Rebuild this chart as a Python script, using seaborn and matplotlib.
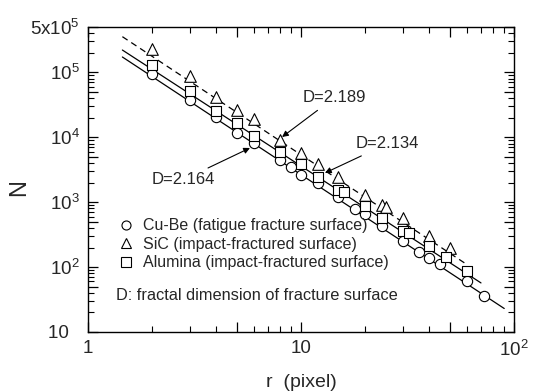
import matplotlib
matplotlib.use('Agg')
import pandas as pd
import matplotlib.pyplot as plt
import seaborn as sns
from matplotlib.lines import Line2D
from matplotlib.ticker import FixedLocator, FixedFormatter, NullFormatter

# Datos (conteo de cajas N vs tamano r)
r_cube = [2, 3, 4, 5, 6, 8, 9, 10, 12, 15, 18, 20, 24, 30, 36, 40, 45, 60, 72]
n_cube = [94400, 37600, 20600, 11600, 8170, 4470, 3480, 2630, 1980, 1200, 785, 658,
          430, 252, 171, 138, 112, 61, 36]

r_sic = [2, 3, 4, 5, 6, 8, 10, 12, 15, 20, 24, 25, 30, 40, 50]
n_sic = [229000, 88000, 41800, 26400, 19100, 9080, 5730, 3880, 2440, 1290, 906, 843,
         571, 301, 197]

r_alu = [2, 3, 4, 5, 6, 8, 10, 12, 15, 16, 20, 24, 30, 32, 40, 48, 60]
n_alu = [130000, 51600, 25400, 16600, 10500, 5930, 3900, 2440, 1550, 1420, 873, 571,
         360, 335, 211, 143, 87]

# Rectas de ajuste (extremos)
fit_r_cube = [1.45, 90]
fit_n_cube = [172600, 23]
fit_r_sic = [1.45, 60]
fit_n_sic = [355000, 110]
fit_r_alu = [1.45, 70]
fit_n_alu = [221000, 57]

etiquetas = ['Cu-Be (fatigue fracture surface)',
             'SiC (impact-fractured surface)',
             'Alumina (impact-fractured surface)']
marcadores = ['o', '^', 's']

sns.set_theme(style='ticks')
plt.rcParams['font.family'] = ['Liberation Sans', 'DejaVu Sans']
plt.rcParams['mathtext.default'] = 'regular'

fig = plt.figure(figsize=(5.34, 3.92), dpi=100)
ax = fig.add_axes([0.1648, 0.1531, 0.7977, 0.7780])

# Lineas de ajuste
sns.lineplot(x=fit_r_cube, y=fit_n_cube, ax=ax, color='black', lw=0.9, zorder=2)
sns.lineplot(x=fit_r_alu, y=fit_n_alu, ax=ax, color='black', lw=0.9, zorder=2)
sns.lineplot(x=fit_r_sic, y=fit_n_sic, ax=ax, color='black', lw=0.9,
             linestyle=(0, (5, 3.5)), zorder=2)

# Puntos
series = [(r_cube, n_cube), (r_sic, n_sic), (r_alu, n_alu)]
tamanos = [55, 70, 60]
for (rr, nn), mk, s in zip(series, marcadores, tamanos):
    sns.scatterplot(x=rr, y=nn, ax=ax, marker=mk, s=s, facecolor='white',
                    edgecolor='black', linewidth=0.8, zorder=3)

ax.set_xscale('log')
ax.set_yscale('log')
ax.set_xlim(1, 100)
ax.set_ylim(10, 5e5)

# Ticks
ax.xaxis.set_major_locator(FixedLocator([1, 5, 10, 50, 100]))
ax.xaxis.set_major_formatter(FixedFormatter(['1', '', '10', '', r'$10^2$']))
ax.xaxis.set_minor_locator(FixedLocator([2, 3, 4, 6, 7, 8, 9, 20, 30, 40, 60, 70, 80, 90]))
ax.xaxis.set_minor_formatter(NullFormatter())

ax.yaxis.set_major_locator(FixedLocator([10, 50, 100, 500, 1e3, 5e3, 1e4, 5e4, 1e5, 5e5]))
ax.yaxis.set_major_formatter(FixedFormatter(['10  ', '', r'$10^2$', '', r'$10^3$', '',
                                             r'$10^4$', '', r'$10^5$', r'$5x10^5$']))
menores = []
for dec in [10, 100, 1000, 10000, 100000]:
    for k in [2, 3, 4, 6, 7, 8, 9]:
        if dec * k < 5e5:
            menores.append(dec * k)
ax.yaxis.set_minor_locator(FixedLocator(menores))
ax.yaxis.set_minor_formatter(NullFormatter())

ax.tick_params(which='both', direction='in', top=True, right=True, color='black')
ax.tick_params(which='major', length=7, width=0.9, labelsize=13.5, pad=6)
ax.tick_params(which='minor', length=4, width=0.8)
for sp in ax.spines.values():
    sp.set_color('black')
    sp.set_linewidth(1.0)

ax.set_xlabel('r  (pixel)', fontsize=14, labelpad=10)
ax.set_ylabel('N', fontsize=17)
ax.yaxis.set_label_coords(-0.136, 0.472)

# Leyenda
handles = [Line2D([], [], marker=mk, linestyle='none', markersize=6.5,
                  markerfacecolor='white', markeredgecolor='black', markeredgewidth=0.8)
           for mk in marcadores]
ax.legend(handles, etiquetas, loc='center left', bbox_to_anchor=(0.055, 0.287),
          frameon=False, fontsize=11.5, handlelength=1.0, handletextpad=0.55,
          labelspacing=0.22, borderaxespad=0)
ax.text(0.066, 0.118, 'D: fractal dimension of fracture surface',
        transform=ax.transAxes, fontsize=11.8, va='center', ha='left')

# Anotaciones de D
flecha = dict(arrowstyle='-|>', color='black', lw=0.8, shrinkA=2, shrinkB=0,
              mutation_scale=9)
ax.annotate('D=2.164', xy=(5.76, 6840), xytext=(2.79, 2200), fontsize=12,
            ha='center', va='center', arrowprops=flecha)
ax.annotate('D=2.189', xy=(8.15, 10100), xytext=(14.3, 40400), fontsize=12,
            ha='center', va='center', arrowprops=flecha)
ax.annotate('D=2.134', xy=(12.96, 2820), xytext=(25.3, 7890), fontsize=12,
            ha='center', va='center', arrowprops=flecha)

fig.savefig('out.png', dpi=100)
